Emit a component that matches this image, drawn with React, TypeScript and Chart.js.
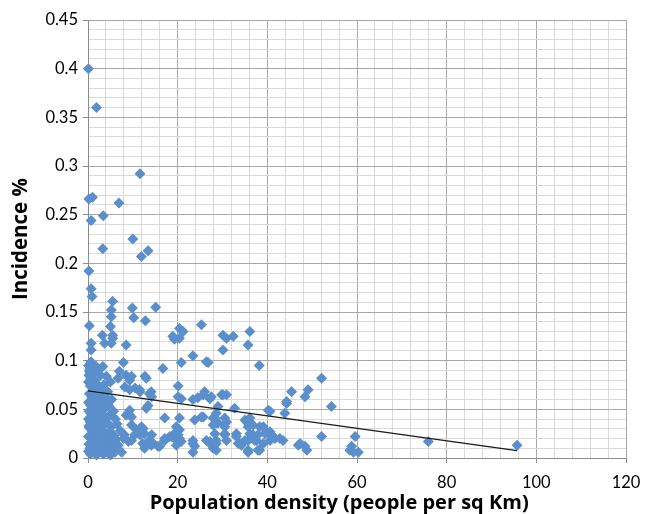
import React, { useEffect, useRef } from "react";
import { Chart, registerables } from "chart.js";

Chart.register(...registerables);

// Population density (people per sq Km)
const densityX: number[] = [
  0.1, 1.9, 11.6, 0.2, 1.0, 0.7, 3.4, 6.9, 10.0, 3.3, 13.4, 11.9, 0.2, 0.7, 0.9, 5.5, 5.2, 9.9, 15.1, 10.2,
  12.8, 5.2, 0.3, 5.0, 20.4, 21.2, 25.3, 18.9, 3.2, 5.5,
  5.5, 5.2, 3.7, 0.7, 0.7, 8.5, 20.4, 19.3, 30.1, 32.4, 30.9, 36.1, 35.7, 30.1, 23.4, 20.8, 26.8, 38.2, 7.9, 16.7,
  0.7, 1.8, 0.3, 7.0, 6.7, 8.5, 9.3, 13.0, 4.1, 9.3, 11.5, 13.7, 20.1, 20.8, 26.0, 27.5, 30.1, 30.9, 23.4, 24.5,
  45.4, 49.1, 48.4, 52.1, 54.3, 44.3, 43.9, 40.2, 32.7, 29.0, 13.0, 9.3, 8.5, 17.1, 20.4, 23.8, 25.3, 27.9, 28.6, 30.5,
  30.9, 35.0, 36.1, 36.8, 38.3, 39.1, 39.8, 41.3, 42.8, 43.5, 47.3, 48.4, 48.8, 52.1, 59.6, 58.8, 58.4, 59.2, 60.3, 75.9,
  95.7,
  11.9, 12.6, 10.8, 10.4, 9.7, 12.2, 13.7, 12.6, 16.0, 17.1, 18.6, 19.7, 19.7, 20.4, 20.1, 23.4, 23.8, 23.4, 26.4, 27.2,
  27.9, 28.3, 28.6, 30.5, 30.9, 33.1, 33.9, 34.2, 35.7, 35.7, 36.8, 37.6, 38.3, 39.1, 40.6, 40.6,
  9.7, 12.7, 8.2, 10.5, 11.6, 14.2, 13.4, 9.0, 9.7, 9.7, 12.3, 11.6, 14.2, 7.9, 9.0, 6.7, 6.0, 7.5, 13.4, 14.6,
  26.4, 20.1, 14.1, 25.7, 27.2, 29.8, 25.7, 28.3, 27.9, 19.7, 19.3, 20.4, 18.2, 17.1, 20.8, 15.6, 14.1, 23.4, 27.2, 28.6,
  29.0, 30.5, 28.6, 30.5, 28.6, 33.1, 33.5, 35.4, 35.7, 36.1, 35.0, 35.7, 37.9, 37.2, 37.9, 39.5, 40.6, 41.7, 44.3, 46.9,
  0.1, 0.4, 0.2, 0.6, 1.1, 1.5, 2.3, 2.8, 3.3, 0.1, 0.5, 1.2, 2.0, 2.6, 3.5, 4.4, 0.3, 0.9, 1.7, 2.4,
  3.1, 4.0, 5.3, 0.1, 0.6, 1.3, 2.0, 2.9, 3.6, 4.6, 5.7, 0.2, 0.8, 1.5, 2.2, 3.0, 3.9, 4.8, 6.1, 0.1,
  0.5, 1.2, 1.9, 2.6, 3.4, 4.3, 5.2, 6.5, 0.3, 0.9, 1.6, 2.4, 3.1, 4.0, 4.9, 5.8, 7.2, 0.1, 0.6, 1.3,
  2.0, 2.8, 3.6, 4.5, 5.4, 6.3, 8.1, 0.2, 0.8, 1.5, 2.3, 3.0, 3.9, 4.7, 5.6, 0.1, 0.5, 1.1, 1.9, 2.6,
  3.4, 4.2, 5.0, 0.4, 1.8, 3.8, 5.0, 1.0, 0.2, 2.7,
];

// Incidence %
const incidenceY: number[] = [
  0.4, 0.36, 0.292, 0.266, 0.268, 0.244, 0.249, 0.262, 0.225, 0.215, 0.213, 0.207, 0.192, 0.174, 0.166, 0.161, 0.152, 0.154, 0.155, 0.144,
  0.141, 0.145, 0.136, 0.135, 0.133, 0.13, 0.137, 0.125, 0.126, 0.126,
  0.123, 0.118, 0.118, 0.118, 0.111, 0.116, 0.123, 0.122, 0.126, 0.125, 0.123, 0.13, 0.116, 0.111, 0.105, 0.098, 0.098, 0.095, 0.098, 0.092,
  0.099, 0.094, 0.089, 0.089, 0.082, 0.085, 0.08, 0.082, 0.084, 0.07, 0.07, 0.066, 0.074, 0.061, 0.068, 0.063, 0.065, 0.065, 0.06, 0.062,
  0.068, 0.07, 0.063, 0.082, 0.053, 0.058, 0.046, 0.049, 0.051, 0.053, 0.051, 0.049, 0.044, 0.041, 0.041, 0.039, 0.042, 0.041, 0.036, 0.041,
  0.037, 0.039, 0.041, 0.034, 0.032, 0.032, 0.027, 0.022, 0.02, 0.018, 0.015, 0.012, 0.008, 0.022, 0.022, 0.012, 0.008, 0.006, 0.006, 0.017,
  0.013,
  0.032, 0.025, 0.029, 0.024, 0.018, 0.015, 0.018, 0.01, 0.012, 0.018, 0.022, 0.018, 0.013, 0.029, 0.024, 0.018, 0.012, 0.006, 0.018, 0.015,
  0.01, 0.025, 0.018, 0.024, 0.018, 0.022, 0.015, 0.013, 0.018, 0.006, 0.024, 0.018, 0.008, 0.015, 0.018, 0.027,
  0.084, 0.084, 0.073, 0.072, 0.068, 0.063, 0.054, 0.046, 0.042, 0.034, 0.03, 0.024, 0.024, 0.02, 0.017, 0.013, 0.006, 0.006, 0.017, 0.015,
  0.099, 0.063, 0.068, 0.065, 0.061, 0.065, 0.042, 0.041, 0.034, 0.032, 0.025, 0.02, 0.022, 0.02, 0.017, 0.012, 0.013, 0.015, 0.017, 0.008,
  0.036, 0.032, 0.046, 0.025, 0.015, 0.025, 0.015, 0.037, 0.032, 0.025, 0.018, 0.008, 0.008, 0.018, 0.024, 0.025, 0.048, 0.02, 0.056, 0.013,
  0.095, 0.091, 0.085, 0.082, 0.087, 0.08, 0.091, 0.085, 0.094, 0.078, 0.074, 0.071, 0.076, 0.072, 0.075, 0.068, 0.066, 0.062, 0.064, 0.06,
  0.066, 0.062, 0.06, 0.057, 0.054, 0.056, 0.052, 0.055, 0.05, 0.054, 0.048, 0.048, 0.045, 0.047, 0.043, 0.046, 0.041, 0.044, 0.04, 0.04,
  0.037, 0.038, 0.035, 0.039, 0.034, 0.036, 0.032, 0.035, 0.031, 0.028, 0.03, 0.026, 0.029, 0.025, 0.027, 0.023, 0.028, 0.022, 0.02, 0.023,
  0.018, 0.021, 0.017, 0.02, 0.016, 0.019, 0.024, 0.014, 0.012, 0.015, 0.01, 0.013, 0.009, 0.012, 0.01, 0.007, 0.004, 0.006, 0.003, 0.007,
  0.004, 0.006, 0.003, 0.01, 0.026, 0.058, 0.078, 0.05, 0.033, 0.047,
];

// Linear trend line end points
const trendX: number[] = [0, 95.7];
const trendY: number[] = [0.069, 0.0075];

const xTitle = "Population density (people per sq Km)";
const yTitle = "Incidence %";

const FONT = "Lato, 'Open Sans', 'DejaVu Sans', sans-serif";
const TITLE_FONT = "'Open Sans', Lato, 'DejaVu Sans', sans-serif";

// Draws the x-axis title centred on the whole chart (as the original does)
const xTitlePlugin = {
  id: "xTitleWhole",
  afterDraw(chart: any) {
    const { ctx, width } = chart;
    ctx.save();
    ctx.font = `bold 20px ${TITLE_FONT}`;
    ctx.fillStyle = "#000";
    ctx.textAlign = "center";
    ctx.textBaseline = "alphabetic";
    ctx.fillText(xTitle, width * 0.521, 509);
    ctx.restore();
  },
};

export default function App() {
  const ref = useRef<HTMLCanvasElement | null>(null);

  useEffect(() => {
    if (!ref.current) return;
    const n = Math.min(densityX.length, incidenceY.length);
    const pts = [];
    for (let i = 0; i < n; i++) pts.push({ x: densityX[i], y: incidenceY[i] });
    const trend = trendX.map((x, i) => ({ x, y: trendY[i] }));

    const isMajorY = (v: number) => Math.abs(v * 20 - Math.round(v * 20)) < 1e-6;
    const isMajorX = (v: number) => Math.abs(v / 20 - Math.round(v / 20)) < 1e-6;

    const chart = new Chart(ref.current, {
      type: "scatter",
      data: {
        datasets: [
          {
            label: "Trend",
            data: trend,
            showLine: true,
            borderColor: "#1a1a1a",
            borderWidth: 1.3,
            pointRadius: 0,
            order: 0,
            clip: false,
          } as any,
          {
            label: "Incidence",
            data: pts,
            pointStyle: "rectRot",
            pointRadius: 5.5,
            backgroundColor: "#5A8FCC",
            borderColor: "#5A8FCC",
            borderWidth: 0,
            order: 1,
            clip: false,
          } as any,
        ],
      },
      plugins: [xTitlePlugin],
      options: {
        animation: false,
        responsive: false,
        layout: { padding: { top: 20, right: 25, left: 0, bottom: 0 } },
        plugins: { legend: { display: false }, tooltip: { enabled: false } },
        scales: {
          x: {
            type: "linear",
            min: 0,
            max: 120,
            afterFit: (s: any) => {
              s.height = 56;
            },
            border: { color: "#8c8c8c", width: 1 },
            grid: {
              color: (c: any) => (isMajorX(c.tick.value) ? "#a8a8a8" : "#d9d9d9"),
              tickColor: (c: any) => (isMajorX(c.tick.value) ? "#8c8c8c" : "rgba(0,0,0,0)"),
              tickLength: 5,
              lineWidth: 1,
            },
            ticks: {
              stepSize: 4,
              autoSkip: false,
              maxRotation: 0,
              padding: 10,
              color: "#000",
              font: { family: FONT, size: 16.5 },
              callback: (v: any) => (isMajorX(Number(v)) ? String(Math.round(Number(v))) : ""),
            },
            title: { display: false },
          },
          y: {
            type: "linear",
            min: 0,
            max: 0.45,
            afterFit: (s: any) => {
              s.width = 88;
            },
            border: { color: "#8c8c8c", width: 1 },
            grid: {
              color: (c: any) => (isMajorY(c.tick.value) ? "#a8a8a8" : "#d9d9d9"),
              tickColor: (c: any) => (isMajorY(c.tick.value) ? "#8c8c8c" : "rgba(0,0,0,0)"),
              tickLength: 5,
              lineWidth: 1,
            },
            ticks: {
              stepSize: 0.01,
              autoSkip: false,
              padding: 5,
              color: "#000",
              font: { family: FONT, size: 16.5 },
              callback: (v: any) =>
                isMajorY(Number(v)) ? String(Math.round(Number(v) * 100) / 100) : "",
            },
            title: {
              display: true,
              text: yTitle,
              color: "#000",
              font: { family: TITLE_FONT, size: 20.5, weight: "bold" },
              padding: { top: 9, bottom: 0 },
            },
          },
        },
      },
    });
    return () => chart.destroy();
  }, []);

  return (
    <div style={{ position: "fixed", left: 0, top: 0, width: 651, height: 514, background: "#fff" }}>
      <canvas ref={ref} width={651} height={514} style={{ display: "block" }} />
    </div>
  );
}
